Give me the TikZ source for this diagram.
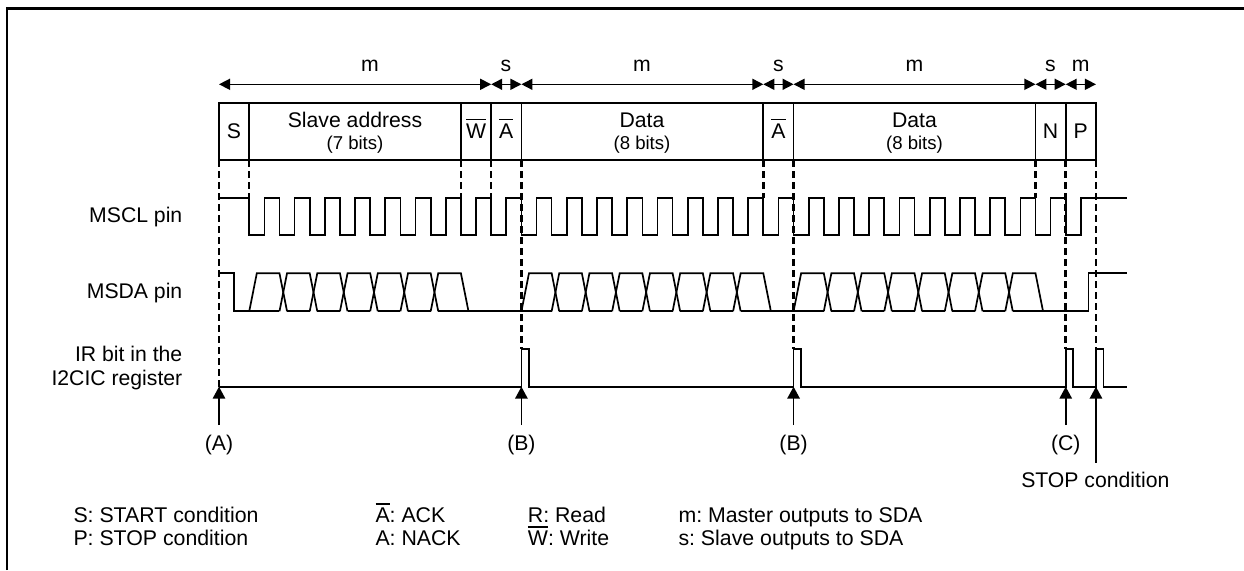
\documentclass[tikz,border=0pt]{standalone}
\usepackage{fontspec}
\setmainfont{Liberation Sans}
\usetikzlibrary{arrows.meta}
\newsavebox{\ovbox}
\newcommand{\ov}[1]{\leavevmode\sbox{\ovbox}{#1}\rlap{\rule[0.84em]{\wd\ovbox}{1.4pt}}\usebox{\ovbox}}
\tikzset{
 x=1pt,y=-1pt,
 wave/.style={line width=1.7pt,line join=miter},
 boxl/.style={line width=1.7pt},
 frameline/.style={line width=2.7pt,line join=miter},
 guide/.style={line width=2.5pt,dash pattern=on 7pt off 4pt},
 dim/.style={line width=1.5pt,{Triangle[length=11pt,width=11pt]}-{Triangle[length=11pt,width=11pt]}},
 upar/.style={line width=1.7pt,-{Triangle[length=12pt,width=12.5pt]}},
 lab/.style={font=\fontsize{21.2}{23}\selectfont\frenchspacing,inner sep=0pt,anchor=base},
 small/.style={font=\fontsize{18.6}{20}\selectfont\frenchspacing,inner sep=0pt,anchor=base},
 rowlab/.style={font=\fontsize{21.2}{23}\selectfont\frenchspacing,inner sep=0pt,anchor=base east},
 leg/.style={font=\fontsize{21.3}{23}\selectfont\frenchspacing,inner sep=0pt,anchor=base west}
}
\newcommand{\Xp}[1]{{219+30.24*(#1)}}
\begin{document}
\begin{tikzpicture}
\useasboundingbox (0,0) rectangle (1244,570);
\fill[white] (0,0) rectangle (1244,570);
\def\Yh{197.7}\def\Yl{235.3}\def\Dh{273.3}\def\Dl{311.3}\def\Ih{349}\def\Il{386.7}\def\Ty{103.3}\def\By{160}\def\Ay{84.3}
\foreach \n/\i in {p0/0,p1/1,p8/8,p9/9,p10/10,p18/18,p19/19,p27/27,p28/28,p29/29}{
 \coordinate (\n t) at (\Xp{\i},\Ty);
 \coordinate (\n b) at (\Xp{\i},\By);
 \coordinate (\n a) at (\Xp{\i},\Ay);
 \coordinate (\n c) at (\Xp{\i},\Yh);
 \coordinate (\n i) at (\Xp{\i},\Ih);
 \coordinate (\n l) at (\Xp{\i},\Il);
 \coordinate (\n e) at (\Xp{\i},425);
}
\coordinate (stopTail) at (\Xp{29},462.7);
\coordinate (frameBL) at (7,570);
\coordinate (frameTL) at (7,8.7);
\coordinate (frameTR) at (1244,8.7);
% frame
\draw[frameline] (frameBL) -- (frameTL) -- (frameTR);
% boxes
\draw[boxl] (p0t) rectangle (p29b);
\foreach \n in {p1,p8,p9,p10,p18,p19,p27,p28}{\draw[boxl] (\n t) -- (\n b);}
% guides
\foreach \n in {p1,p8,p9,p18,p27}{\draw[guide] (\n b) -- (\n c);}
\foreach \n in {p10,p19,p28,p29}{\draw[guide] (\n b) -- (\n i);}
\draw[guide] (p0b) -- (p0l);
% dimension arrows
\foreach \a/\b in {p0/p9,p9/p10,p10/p18,p18/p19,p19/p27,p27/p28,p28/p29}{
 \draw[dim] (\a a) -- (\b a);
}
\node[lab] (mA) at (370,71.7) {m};
\node[lab] (sA) at (506,71.7) {s};
\node[lab] (mB) at (642,71.7) {m};
\node[lab] (sB) at (778.5,71.7) {s};
\node[lab] (mC) at (914.5,71.7) {m};
\node[lab] (sC) at (1050.5,71.7) {s};
\node[lab] (mD) at (1080.8,71.7) {m};
% frame fields
\node[lab] (fS) at (234,138.3) {S};
\node[lab] (fAddr) at (355,127) {Slave address};
\node[small] (fAddrB) at (355,149) {(7 bits)};
\node[lab] (fW) at (476,138.3) {\ov{W}};
\node[lab] (fA1) at (506.2,138.3) {\ov{A}};
\node[lab] (fD1) at (642,127) {Data};
\node[small] (fD1B) at (642,149) {(8 bits)};
\node[lab] (fA2) at (778.5,138.3) {\ov{A}};
\node[lab] (fD2) at (914.5,127) {Data};
\node[small] (fD2B) at (914.5,149) {(8 bits)};
\node[lab] (fN) at (1050.5,138.3) {N};
\node[lab] (fP) at (1080.8,138.3) {P};
% row labels
\node[rowlab] (rC) at (182.5,222.7) {MSCL pin};
\node[rowlab] (rD) at (182.5,298.7) {MSDA pin};
\node[rowlab] (rI) at (182.5,361.7) {IR bit in the};
\node[rowlab] (rJ) at (182.5,385) {I2CIC register};
% MSCL
\draw[wave] (p0c) -- (\Xp{1},\Yh)
 \foreach \k in {1,...,27}{ -- (\Xp{\k},\Yl) -- (\Xp{\k+.5},\Yl) -- (\Xp{\k+.5},\Yh) -- (\Xp{\k+1},\Yh) }
 -- (\Xp{28},\Yl) -- (\Xp{28.5},\Yl) -- (\Xp{28.5},\Yh) -- (1127,\Yh);
% MSDA
\draw[wave] (\Xp{0},\Dh) -- (\Xp{.5},\Dh) -- (\Xp{.5},\Dl) -- (\Xp{2},\Dl);
\foreach \k in {1,...,7,10,11,...,17,19,20,...,26}{
 \draw[wave] (\Xp{\k},\Dl) -- (\Xp{\k+.25},\Dh) -- (\Xp{\k+1},\Dh) -- (\Xp{\k+1.25},\Dl);
 \draw[wave] (\Xp{\k+.25},\Dl) -- (\Xp{\k+1},\Dl);
}
\draw[wave] (\Xp{8},\Dl) -- (\Xp{11},\Dl);
\draw[wave] (\Xp{18},\Dl) -- (\Xp{20},\Dl);
\draw[wave] (\Xp{27},\Dl) -- (\Xp{28.75},\Dl) -- (\Xp{28.75},\Dh) -- (1127,\Dh);
% IR
\draw[wave] (p0l)
 \foreach \k in {10,19,28,29}{ -- (\Xp{\k},\Il) -- (\Xp{\k},\Ih) -- (\Xp{\k+.25},\Ih) -- (\Xp{\k+.25},\Il) }
 -- (1127,\Il);
% up arrows
\foreach \n in {p0,p10,p19,p28}{\draw[upar] (\n e) -- (\n l);}
\draw[upar] (stopTail) -- (p29l);
\node[lab] (tA) at (\Xp{0},450) {(A)};
\node[lab] (tB1) at (\Xp{10},450) {(B)};
\node[lab] (tB2) at (\Xp{19},450) {(B)};
\node[lab] (tC) at (\Xp{28},450) {(C)};
\node[lab] (tStop) at (1095.3,487.7) {STOP condition};
% legend
\node[leg] (l1) at (73.3,522.7) {S: START condition};
\node[leg] (l2) at (73.3,545.7) {P: STOP condition};
\node[leg] (l3) at (375.3,522.7) {\ov{A}: ACK};
\node[leg] (l4) at (375.3,545.7) {A: NACK};
\node[leg] (l5) at (527.7,522.7) {R: Read};
\node[leg] (l6) at (527.7,545.7) {\ov{W}: Write};
\node[leg] (l7) at (678.3,522.7) {m: Master outputs to SDA};
\node[leg] (l8) at (678.3,545.7) {s: Slave outputs to SDA};
\end{tikzpicture}
\end{document}
